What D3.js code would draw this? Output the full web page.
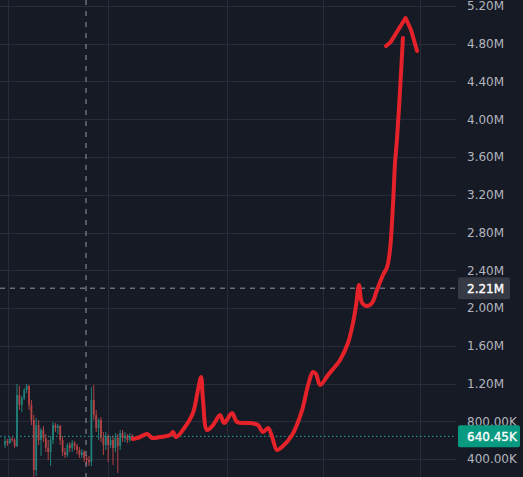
<!DOCTYPE html>
<html>
<head>
<meta charset="utf-8">
<script src="https://cdn.jsdelivr.net/npm/d3@7"></script>
<style>
  html, body { margin: 0; padding: 0; background: #161a25; }
  #chart { width: 523px; height: 477px; overflow: hidden; }
  text { font-family: "DejaVu Sans", sans-serif; }
</style>
</head>
<body>
<div id="chart"></div>
<script>
// price values are in thousands (K)
const priceTicks = [400, 800, 1200, 1600, 2000, 2400, 2800, 3200, 3600, 4000, 4400, 4800, 5200]

// candles, one per bar index
const candleOpen  = [548, 591, 570, 612, 601, 538, 1078, 972, 1046, 1131, 1174, 972, 813, 283, 760, 601, 707, 623, 517, 474,
                     601, 760, 728, 750, 601, 474, 442, 548, 517, 570, 538, 495, 442, 474, 411, 389, 368, 1025, 866, 728,
                     813, 623, 548, 644, 548, 601, 517, 623, 538, 675, 623, 644, 601, 644]
const candleHigh  = [633, 612, 633, 633, 623, 1195, 1174, 1068, 1152, 1195, 1184, 1025, 866, 834, 813, 728, 750, 665, 601, 644,
                     792, 781, 771, 760, 644, 517, 570, 580, 601, 591, 559, 527, 506, 495, 442, 432, 1163, 1184, 919, 834,
                     845, 686, 686, 665, 644, 644, 675, 665, 707, 707, 686, 665, 675, 665]
const candleLow   = [517, 538, 559, 580, 517, 527, 919, 898, 1025, 1099, 919, 760, 209, 220, 548, 432, 580, 474, 389, 326,
                     559, 686, 665, 548, 432, 411, 421, 474, 474, 495, 453, 411, 411, 368, 336, 326, 326, 813, 686, 601,
                     580, 442, 495, 368, 517, 336, 474, 252, 495, 580, 580, 570, 580, 591]
const candleClose = [591, 570, 612, 601, 538, 1078, 972, 1046, 1131, 1174, 972, 813, 283, 760, 601, 707, 623, 517, 474, 601,
                     760, 728, 750, 601, 474, 442, 548, 517, 570, 538, 495, 442, 474, 411, 389, 368, 1025, 866, 728, 813,
                     623, 548, 644, 548, 601, 517, 623, 538, 675, 623, 644, 601, 644, 623]

// hand drawn red line (bar index, price)
const redIdx = [53.3, 56.3, 59.2, 61.3, 64.6, 68.8, 70, 71.3, 75, 78.3, 80.4, 81.7, 82.5, 84.2, 86.7, 89.6, 91.3, 94.6, 96.7,
                102.1, 105.4, 107.5, 109.6, 111.3, 113.3, 115.4, 119.6, 123.8, 126.3, 128.3, 129.6, 131.3, 134.6, 139.6,
                142.9, 145, 146.3, 147.5, 148.8, 150.8, 152.9, 155, 157.5, 159.2, 160.4, 161.7, 162.5, 163.3, 164.6, 165.8]
const redVal = [612, 633, 665, 623, 633, 654, 686, 633, 739, 887, 1131, 1269, 1025, 707, 760, 866, 781, 887, 792,
                781, 760, 686, 728, 633, 495, 527, 654, 919, 1184, 1322, 1301, 1184, 1290, 1449,
                1629, 1841, 2032, 2244, 2053, 2021, 2053, 2191, 2350, 2434, 2615, 3113, 3536, 3780, 4310, 4861]
const arrowIdx = [158.75, 160.6, 166.9, 169.2, 171.7]
const arrowVal = [4776, 4815, 5073, 4946, 4723]

const gridIdx = [1.25, 42.9, 92.5, 132.5, 172.9]
const crossIdx = 33.75
const crossVal = 2210
const lastPrice = 640.45

const width = 523, height = 477
const plotRight = 456

const fmt = v => v >= 1000 ? (v / 1000).toFixed(2) + "M" : v.toFixed(2) + "K"

var svg = d3.select("#chart").append("svg")
              .attr("width", width)
              .attr("height", height)

svg.append("rect").attr("width", width).attr("height", height).attr("fill", "#161a25")

var x = d3.scaleLinear().domain([0, 190]).range([5, 5 + 190 * 2.4])
var y = d3.scaleLinear().domain([400, 5200]).range([459, 6])

// Grid
svg.append("g").selectAll("line").data(priceTicks).enter()
    .append("line")
      .attr("x1", 0).attr("x2", plotRight)
      .attr("y1", d => Math.round(y(d)) + 0.5).attr("y2", d => Math.round(y(d)) + 0.5)
      .attr("stroke", "#272c38")

svg.append("g").selectAll("line").data(gridIdx).enter()
    .append("line")
      .attr("x1", d => Math.round(x(d)) + 0.5).attr("x2", d => Math.round(x(d)) + 0.5)
      .attr("y1", 0).attr("y2", height)
      .attr("stroke", "#272c38")

// Candles
const candles = d3.range(candleClose.length).map(i => ({
  i: i, o: candleOpen[i], h: candleHigh[i], l: candleLow[i], c: candleClose[i]
}))

var cg = svg.append("g").attr("opacity", 0.72)
cg.selectAll(".wick").data(candles).enter()
    .append("line").attr("class", "wick")
      .attr("x1", d => x(d.i)).attr("x2", d => x(d.i))
      .attr("y1", d => y(d.h)).attr("y2", d => y(d.l))
      .attr("stroke", d => d.c >= d.o ? "#26a69a" : "#ef5350")
      .attr("stroke-width", 1)
cg.selectAll(".body").data(candles).enter()
    .append("rect").attr("class", "body")
      .attr("x", d => x(d.i) - 0.9)
      .attr("width", 1.8)
      .attr("y", d => y(Math.max(d.o, d.c)))
      .attr("height", d => Math.max(1, Math.abs(y(d.o) - y(d.c))))
      .attr("fill", d => d.c >= d.o ? "#26a69a" : "#ef5350")

// Last price line
svg.append("line")
    .attr("x1", 0).attr("x2", plotRight)
    .attr("y1", y(lastPrice)).attr("y2", y(lastPrice))
    .attr("stroke", "#26a69a")
    .attr("stroke-width", 1)
    .attr("stroke-dasharray", "1.5 2.5")

// Crosshair
svg.append("line")
    .attr("x1", x(crossIdx)).attr("x2", x(crossIdx))
    .attr("y1", 0).attr("y2", height)
    .attr("stroke", "#9598a1")
    .attr("stroke-dasharray", "5 6")
svg.append("line")
    .attr("x1", 0).attr("x2", plotRight)
    .attr("y1", y(crossVal)).attr("y2", y(crossVal))
    .attr("stroke", "#9598a1")
    .attr("stroke-dasharray", "5 5")

// Red drawing
var line = d3.line()
    .x(d => x(d[0]))
    .y(d => y(d[1]))
    .curve(d3.curveCatmullRom.alpha(0.5))

svg.append("path")
    .datum(redIdx.map((d, i) => [d, redVal[i]]))
    .attr("d", line)
    .attr("fill", "none")
    .attr("stroke", "#e5222a")
    .attr("stroke-width", 4)
    .attr("stroke-linecap", "round")
    .attr("stroke-linejoin", "round")

svg.append("path")
    .datum(arrowIdx.map((d, i) => [d, arrowVal[i]]))
    .attr("d", line.curve(d3.curveLinear))
    .attr("fill", "none")
    .attr("stroke", "#e5222a")
    .attr("stroke-width", 4)
    .attr("stroke-linecap", "round")
    .attr("stroke-linejoin", "round")

// Price axis
svg.append("g").selectAll("text").data(priceTicks).enter()
    .append("text")
      .attr("x", 467)
      .attr("y", d => y(d))
      .attr("dy", "0.36em")
      .attr("font-size", 12)
      .attr("fill", "#b2b5be")
      .text(fmt)

function priceLabel(v, bg, right) {
  var g = svg.append("g")
  g.append("rect")
      .attr("x", 458).attr("y", y(v) - 11)
      .attr("width", right - 458)
      .attr("height", 22)
      .attr("rx", 2)
      .attr("fill", bg)
  g.append("text")
      .attr("x", 467).attr("y", y(v))
      .attr("dy", "0.36em")
      .attr("font-size", 12)
      .attr("fill", "#ffffff")
      .attr("stroke", "#ffffff")
      .attr("stroke-width", 0.35)
      .text(fmt(v))
}

priceLabel(crossVal, "#363a45", 510)
priceLabel(lastPrice, "#089981", 520)
</script>
</body>
</html>
